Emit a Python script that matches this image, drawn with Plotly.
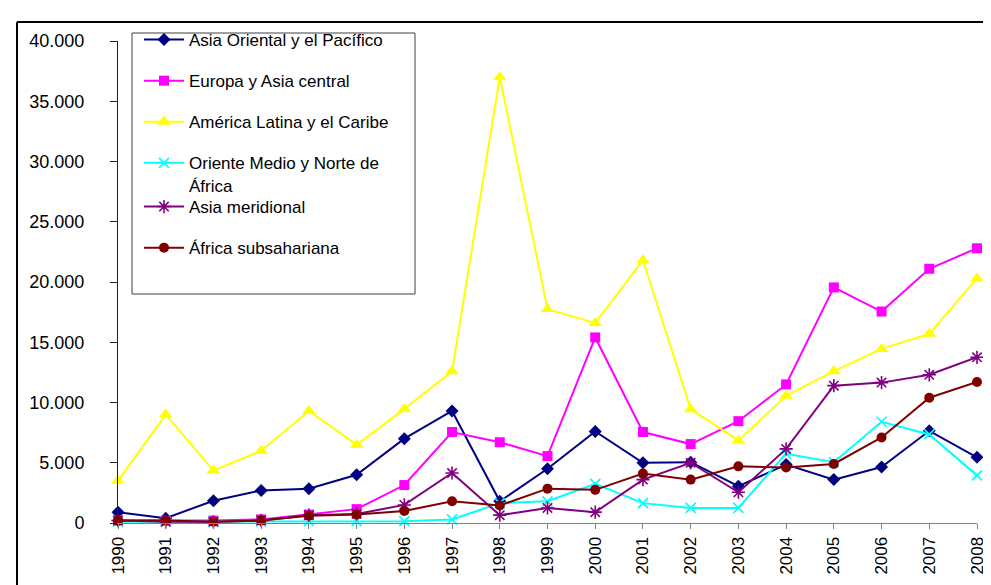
import plotly.graph_objects as go

years = list(range(1990, 2009))

asia_oriental = [900, 400, 1850, 2700, 2850, 4000, 7000, 9300, 1800, 4500, 7600, 5000, 5050, 3050, 4850, 3600, 4650, 7650, 5450]
europa_asia_central = [200, 200, 200, 300, 700, 1150, 3150, 7550, 6700, 5550, 15400, 7550, 6550, 8450, 11500, 19550, 17550, 21100, 22800]
america_latina = [3500, 9000, 4350, 6000, 9300, 6500, 9450, 12600, 37000, 17750, 16600, 21800, 9450, 6850, 10550, 12600, 14450, 15700, 20300]
oriente_medio = [100, 100, 100, 100, 150, 150, 150, 300, 1650, 1800, 3250, 1650, 1250, 1250, 5750, 5050, 8400, 7350, 3950]
asia_meridional = [200, 100, 100, 200, 650, 750, 1500, 4150, 650, 1250, 900, 3600, 5000, 2550, 6150, 11400, 11650, 12300, 13750]
africa_subsahariana = [200, 200, 100, 200, 600, 700, 1000, 1800, 1450, 2850, 2750, 4100, 3600, 4700, 4600, 4900, 7100, 10400, 11700]

series_names = [
    "Asia Oriental y el Pacífico",
    "Europa y Asia central",
    "América Latina y el Caribe",
    "Oriente Medio y Norte de<br>África",
    "Asia meridional",
    "África subsahariana",
]
series_values = [asia_oriental, europa_asia_central, america_latina,
                 oriente_medio, asia_meridional, africa_subsahariana]
y_ticks = list(range(0, 40001, 5000))
y_tick_labels = [f"{v:,}".replace(",", ".") for v in y_ticks]

colors = ["#000080", "#FF00FF", "#FFFF00", "#00FFFF", "#800080", "#800000"]
symbols = ["diamond", "square", "triangle-up", "x-thin-open", "asterisk-open", "circle"]
sizes = [10, 10, 12, 10, 11, 10]

W, H = 991, 585
ML, MR, MT, MB = 110, 22, 33, 70
PW, PH = W - ML - MR, H - MT - MB


def px_x(x):
    return (x - ML) / PW


def px_y(y):
    return (H - MB - y) / PH


FONT = "Liberation Sans, Arial, sans-serif"

fig = go.Figure()
for i, (name, vals) in enumerate(zip(series_names, series_values)):
    sym = symbols[i]
    open_sym = sym.endswith("open")
    fig.add_trace(go.Scatter(
        x=years, y=vals, name=name, mode="lines+markers",
        line=dict(color=colors[i], width=2),
        marker=dict(symbol=sym, size=sizes[i], color=colors[i],
                    line=dict(color=colors[i], width=1.6 if open_sym else 0)),
        cliponaxis=False,
        legendgroup=f"g{i}",
        legend="legend" if i < 4 else "legend2",
    ))

legend_common = dict(
    font=dict(family=FONT, size=17, color="black"),
    bgcolor="rgba(0,0,0,0)", borderwidth=0,
    xanchor="left", yanchor="top", tracegroupgap=16,
    itemwidth=40, valign="top", itemclick=False, itemdoubleclick=False,
)

fig.update_layout(
    width=W, height=H,
    margin=dict(l=ML, r=MR, t=MT, b=MB),
    paper_bgcolor="white", plot_bgcolor="white",
    font=dict(family=FONT, size=17, color="black"),
    showlegend=True,
    legend=dict(x=px_x(131), y=px_y(14), **legend_common),
    legend2=dict(x=px_x(131), y=px_y(181), **legend_common),
    xaxis=dict(
        range=[1990, 2008], tickmode="array", tickvals=years,
        ticktext=[str(y) for y in years], tickangle=-90,
        ticks="outside", ticklen=5, tickcolor="#808080",
        showline=True, linecolor="#808080", linewidth=1,
        showgrid=False, zeroline=False, ticklabelstandoff=1,
        tickfont=dict(family=FONT, size=17, color="black"),
    ),
    yaxis=dict(
        range=[0, 40000], tickmode="array", tickvals=y_ticks, ticktext=y_tick_labels,
        ticks="outside", ticklen=7, tickcolor="#202020",
        showline=True, linecolor="#202020", linewidth=1,
        showgrid=False, zeroline=False, ticklabelstandoff=22,
        tickfont=dict(family=FONT, size=18, color="black"),
    ),
    shapes=[
        # legend frame
        dict(type="rect", xref="paper", yref="paper",
             x0=px_x(124), x1=px_x(407), y0=px_y(286), y1=px_y(25),
             line=dict(color="#404040", width=1), fillcolor="rgba(0,0,0,0)", layer="below"),
        # outer chart frame (top and left edges visible)
        dict(type="line", xref="paper", yref="paper",
             x0=px_x(9), x1=px_x(1000), y0=px_y(14), y1=px_y(14),
             line=dict(color="black", width=2)),
        dict(type="line", xref="paper", yref="paper",
             x0=px_x(9), x1=px_x(9), y0=px_y(14), y1=px_y(600),
             line=dict(color="black", width=2)),
    ],
)

fig.write_html("out.html")
